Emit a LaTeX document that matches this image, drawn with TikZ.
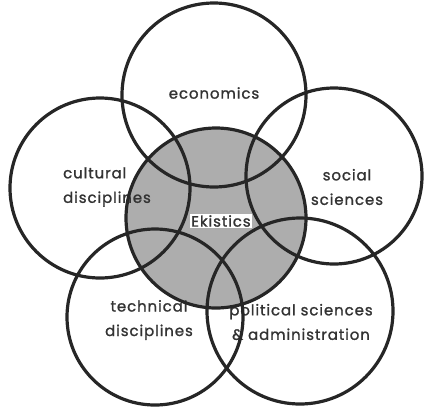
\documentclass[tikz,border=0pt]{standalone}
\usepackage{fontspec}
\setmainfont{Poppins}[LetterSpace=6,FakeBold=1.2]
\begin{document}
\begin{tikzpicture}[x=1pt,y=-1pt,
  ring/.style={draw=black!85,line width=3.2pt},
  lab/.style={font=\fontsize{15}{24.5}\selectfont,text=black!80,align=center,inner sep=0pt}]
\useasboundingbox (0,0) rectangle (425,410);
\fill[black!32] (216,218) circle (90);
\node[lab] (eco) at (214,93) {economics};
\node[lab,align=left] (cul) at (107,187) {cultural\\disciplines};
\node[lab] (soc) at (347,187) {social\\sciences};
\node[lab] (tec) at (149,320) {technical\\disciplines};
\node[lab] (pol) at (301,322) {political sciences\\\& administration};
\node[lab,fill=white,inner sep=1.5pt] (eki) at (221,221) {Ekistics};
\draw[ring] (216,218) circle (90);
\draw[ring] (214,95) circle (92);
\draw[ring] (100,188) circle (90);
\draw[ring] (334,176) circle (88);
\draw[ring] (155,317) circle (88);
\draw[ring] (300,311) circle (93);
\end{tikzpicture}
\end{document}
